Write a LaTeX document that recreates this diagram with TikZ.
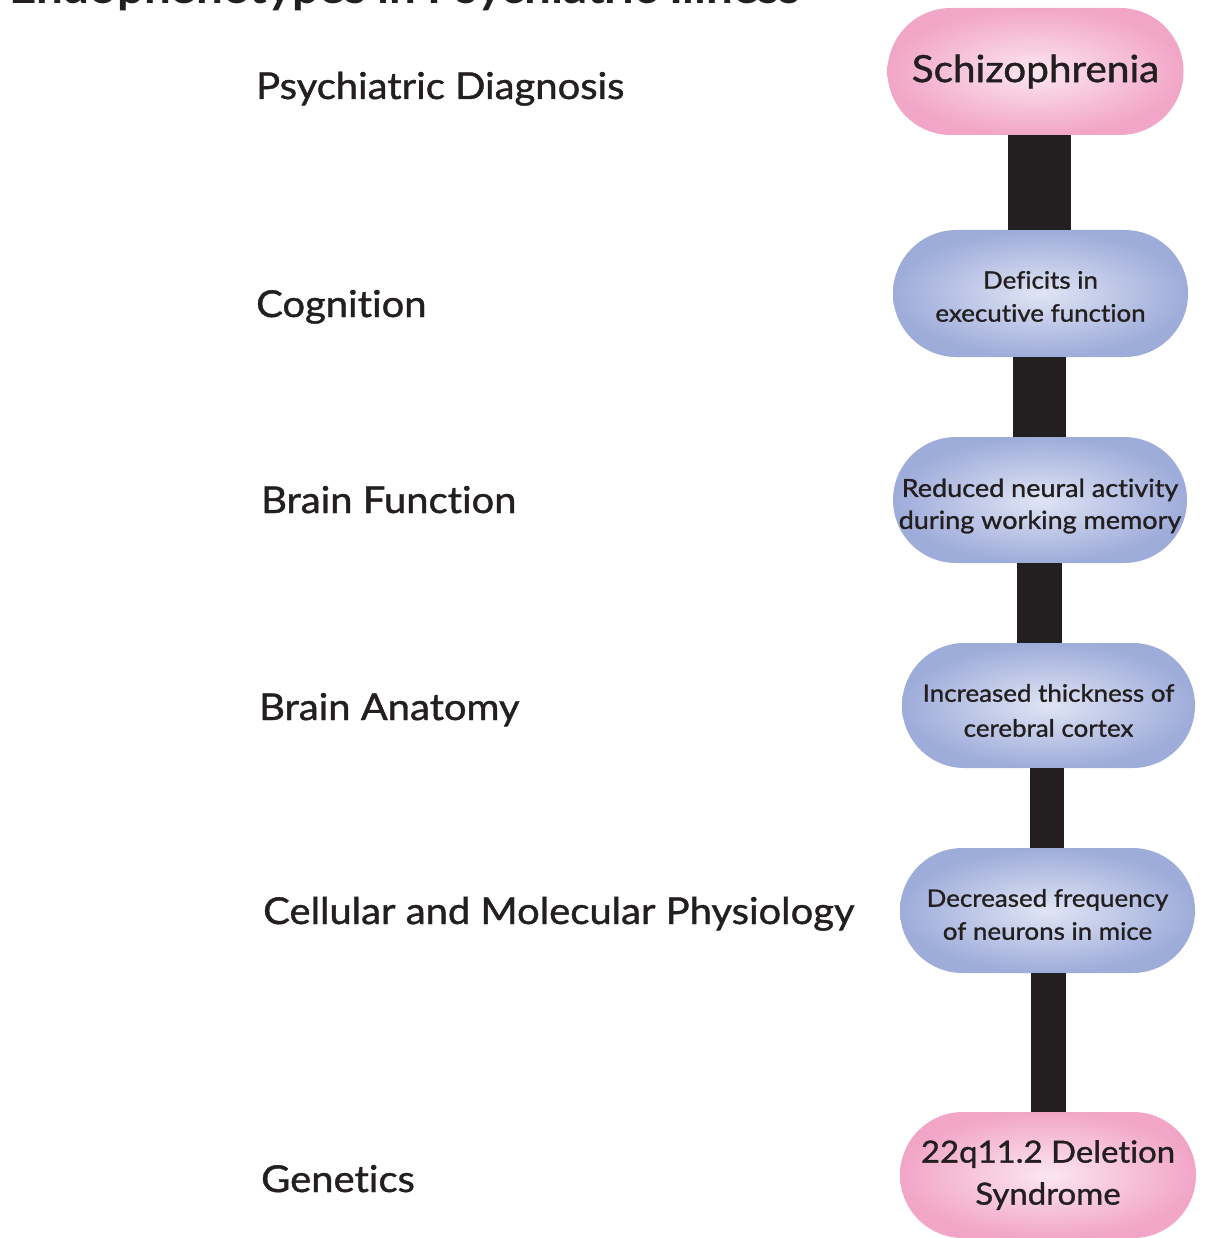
\documentclass[tikz,border=0pt]{standalone}
\usepackage{fontspec}
\setmainfont{Lato}[FakeBold=1.1, FakeStretch=1.08, Ligatures=NoCommon]
\newfontfamily\titlefont{Lato}[FakeStretch=1.08, Ligatures=NoCommon]
\usetikzlibrary{shapes.misc}
\definecolor{ink}{HTML}{231F20}
\definecolor{pinkout}{HTML}{F2A6C7}
\definecolor{pinkin}{HTML}{FCE6F0}
\definecolor{blueout}{HTML}{9EACDA}
\definecolor{bluein}{HTML}{E0E4F4}
\tikzset{
  pill/.style={rounded rectangle, inner sep=0pt, minimum height=126pt, align=center, text=ink},
  pinkpill/.style={pill, inner color=pinkin, outer color=pinkout},
  bluepill/.style={pill, inner color=bluein, outer color=blueout},
  pilltext/.style={inner sep=0pt, align=center, text=ink, font=\fontsize{24}{33}\selectfont},
  levellabel/.style={anchor=base west, text=ink, inner sep=0pt, font=\fontsize{37}{40}\selectfont},
  bar/.style={draw=ink, line cap=butt},
}
\begin{document}
\begin{tikzpicture}[x=1pt, y=-1pt]
\useasboundingbox (0,0) rectangle (1225,1238);
\clip (0,0) rectangle (1225,1238);
\fill[white] (0,0) rectangle (1225,1238);

% cut-off title
\node[anchor=base west, inner sep=0pt, text=ink, font=\titlefont\fontsize{44}{50}\selectfont\bfseries] (title) at (9,4) {Endophenotypes in Psychiatric Illness};

% level labels
\node[levellabel] (l1) at (256,99) {Psychiatric Diagnosis};
\node[levellabel] (l2) at (256,317) {Cognition};
\node[levellabel] (l3) at (261,513) {Brain Function};
\node[levellabel] (l4) at (259,720) {Brain Anatomy};
\node[levellabel] (l5) at (263,924) {Cellular and Molecular Physiology};
\node[levellabel] (l6) at (261,1192) {Genetics};

% pills
\node[pinkpill, minimum width=296pt, minimum height=127pt, font=\fontsize{37.5}{44}\selectfont] (s) at (1035.5,71.5) {Schizophrenia};
\node[bluepill, minimum width=295pt, minimum height=127pt] (d) at (1040.5,293.5) {};
\node[bluepill, minimum width=294pt] (r) at (1040,500) {};
\node[bluepill, minimum width=293pt, minimum height=125pt] (i) at (1048.5,705.5) {};
\node[bluepill, minimum width=295pt, minimum height=125pt] (c) at (1047.5,910.5) {};
\node[pinkpill, minimum width=296pt, font=\fontsize{30.5}{42}\selectfont] (g) at (1048,1175) {22q11.2 Deletion\\Syndrome};

% pill texts
\node[pilltext] (dt) at ([yshift=-3pt]d.center) {Deficits in\\executive function};
\node[pilltext, font=\fontsize{25}{32}\selectfont] (rt) at ([yshift=-6pt]r.center) {Reduced neural activity\\during working memory};
\node[pilltext, font=\fontsize{24}{35}\selectfont] (it) at ([yshift=-5pt]i.center) {Increased thickness of\\cerebral cortex};
\node[pilltext] (ct) at ([yshift=-4pt]c.center) {Decreased frequency\\of neurons in mice};

% bars
\coordinate (x1) at (1039.5,0);
\coordinate (x2) at (1039.5,0);
\coordinate (x3) at (1039.5,0);
\coordinate (x4) at (1047,0);
\coordinate (x5) at (1048.5,0);
\draw[bar, line width=63pt] (s.south -| x1) -- (d.north -| x1);
\draw[bar, line width=53pt] (d.south -| x2) -- (r.north -| x2);
\draw[bar, line width=45pt] (r.south -| x3) -- (i.north -| x3);
\draw[bar, line width=34pt] (i.south -| x4) -- (c.north -| x4);
\draw[bar, line width=35pt] (c.south -| x5) -- (g.north -| x5);
\end{tikzpicture}
\end{document}
